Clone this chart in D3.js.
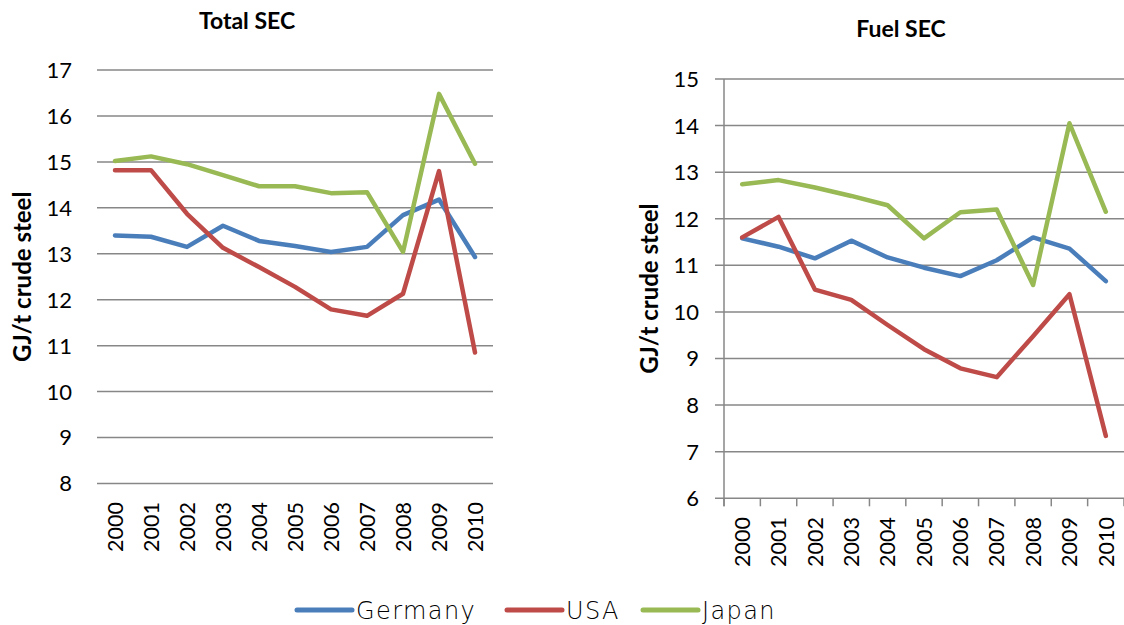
<!DOCTYPE html>
<html>
<head>
<meta charset="utf-8">
<script src="https://cdn.jsdelivr.net/npm/d3@7"></script>
<style>
  html, body { margin: 0; padding: 0; background: #fff; }
  svg { display: block; }
</style>
</head>
<body>
<svg id="chart" width="1124" height="625"></svg>
<script>
// Years on the category axis
const years = ["2000","2001","2002","2003","2004","2005","2006","2007","2008","2009","2010"];

// Total specific energy consumption, GJ/t crude steel
const totalGermany = [13.40, 13.37, 13.15, 13.61, 13.28, 13.17, 13.04, 13.15, 13.84, 14.18, 12.93];
const totalUSA     = [14.82, 14.82, 13.87, 13.13, 12.71, 12.28, 11.79, 11.65, 12.13, 14.80, 10.85];
const totalJapan   = [15.02, 15.12, 14.95, 14.71, 14.47, 14.47, 14.32, 14.34, 13.04, 16.48, 14.96];

// Fuel specific energy consumption, GJ/t crude steel
const fuelGermany = [11.58, 11.40, 11.15, 11.53, 11.17, 10.95, 10.77, 11.11, 11.60, 11.36, 10.66];
const fuelUSA     = [11.60, 12.04, 10.48, 10.26, 9.72, 9.20, 8.79, 8.60, 9.48, 10.38, 7.34];
const fuelJapan   = [12.74, 12.83, 12.67, 12.49, 12.29, 11.58, 12.14, 12.20, 10.58, 14.05, 12.15];

const seriesNames = ["Germany", "USA", "Japan"];
const totalTicks = [8, 9, 10, 11, 12, 13, 14, 15, 16, 17];
const fuelTicks = [6, 7, 8, 9, 10, 11, 12, 13, 14, 15];

const colors = { Germany: "#4A7EBB", USA: "#BE4B48", Japan: "#98B954" };
const labelFont = "Lato, 'Noto Sans', sans-serif";

const svg = d3.select("#chart");

function panel(opts) {
  const g = svg.append("g");
  const x = d3.scaleBand().domain(years).range([opts.left, opts.right]);
  const y = d3.scaleLinear().domain(opts.domain).range([opts.bottom, opts.top]);

  // horizontal gridlines
  g.append("g")
    .selectAll("line")
    .data(opts.ticks)
    .join("line")
    .attr("x1", opts.left - (opts.axisLines ? 9 : 0))
    .attr("x2", opts.right)
    .attr("y1", d => y(d))
    .attr("y2", d => y(d))
    .attr("stroke", "#878787")
    .attr("stroke-width", 1.5);

  // y tick labels
  g.append("g")
    .selectAll("text")
    .data(opts.ticks)
    .join("text")
    .attr("x", opts.labelX)
    .attr("y", d => y(d))
    .attr("dy", "0.36em")
    .attr("text-anchor", "end")
    .attr("font-family", labelFont)
    .attr("font-size", 22)
    .attr("fill", "#000")
    .text(d => d);

  if (opts.axisLines) {
    // vertical value axis
    g.append("line")
      .attr("x1", opts.left).attr("x2", opts.left)
      .attr("y1", y(opts.domain[1])).attr("y2", opts.bottom + 8)
      .attr("stroke", "#878787").attr("stroke-width", 1.5);
    // category tick marks
    const edges = years.map(d => x(d)).concat([opts.right]);
    g.append("g")
      .selectAll("line")
      .data(edges)
      .join("line")
      .attr("x1", d => d).attr("x2", d => d)
      .attr("y1", opts.bottom).attr("y2", opts.bottom + 8)
      .attr("stroke", "#878787").attr("stroke-width", 1.5);
  }

  // rotated year labels
  g.append("g")
    .selectAll("text")
    .data(years)
    .join("text")
    .attr("transform", d => `translate(${x(d) + x.bandwidth() / 2},${opts.yearY}) rotate(-90)`)
    .attr("dy", "0.36em")
    .attr("text-anchor", "end")
    .attr("font-family", labelFont)
    .attr("font-size", 21.5)
    .attr("fill", "#000")
    .text(d => d);

  // title
  g.append("text")
    .attr("x", opts.titleX)
    .attr("y", opts.titleY)
    .attr("text-anchor", "middle")
    .attr("font-family", labelFont)
    .attr("font-weight", "bold")
    .attr("font-size", 23)
    .text(opts.title);

  // value axis title
  g.append("text")
    .attr("transform", `translate(${opts.axisTitleX},${(opts.top + opts.bottom) / 2}) rotate(-90)`)
    .attr("text-anchor", "middle")
    .attr("dy", "0.36em")
    .attr("font-family", labelFont)
    .attr("font-weight", "bold")
    .attr("font-size", 24)
    .text("GJ/t crude steel");

  // series lines
  const line = d3.line()
    .x((d, i) => x(years[i]) + x.bandwidth() / 2)
    .y(d => y(d));
  opts.series.forEach((vals, k) => {
    g.append("path")
      .datum(vals)
      .attr("d", line)
      .attr("fill", "none")
      .attr("stroke", colors[seriesNames[k]])
      .attr("stroke-width", 4.5)
      .attr("stroke-linejoin", "round")
      .attr("stroke-linecap", "round");
  });
}

panel({
  title: "Total SEC", titleX: 247, titleY: 29,
  left: 97, right: 493, top: 70, bottom: 483.5,
  domain: [8, 17], ticks: totalTicks,
  labelX: 72, yearY: 502, axisTitleX: 22, axisLines: false,
  series: [totalGermany, totalUSA, totalJapan]
});

panel({
  title: "Fuel SEC", titleX: 901, titleY: 37,
  left: 724, right: 1124, top: 79, bottom: 498.3,
  domain: [6, 15], ticks: fuelTicks,
  labelX: 699, yearY: 517, axisTitleX: 649, axisLines: true,
  series: [fuelGermany, fuelUSA, fuelJapan]
});

// legend
const legendItems = [
  { name: "Germany", x: 297 },
  { name: "USA", x: 507 },
  { name: "Japan", x: 643 }
];
const lg = svg.append("g");
legendItems.forEach(it => {
  lg.append("line")
    .attr("x1", it.x).attr("x2", it.x + 55)
    .attr("y1", 610).attr("y2", 610)
    .attr("stroke", colors[it.name])
    .attr("stroke-width", 5)
    .attr("stroke-linecap", "round");
  lg.append("text")
    .attr("x", it.x + 59)
    .attr("y", 610)
    .attr("dy", "0.36em")
    .attr("font-family", "'DejaVu Sans', sans-serif")
    .attr("font-weight", 200)
    .attr("font-size", 24)
    .attr("letter-spacing", 1.4)
    .attr("fill", "#000")
    .text(it.name);
});
</script>
</body>
</html>
